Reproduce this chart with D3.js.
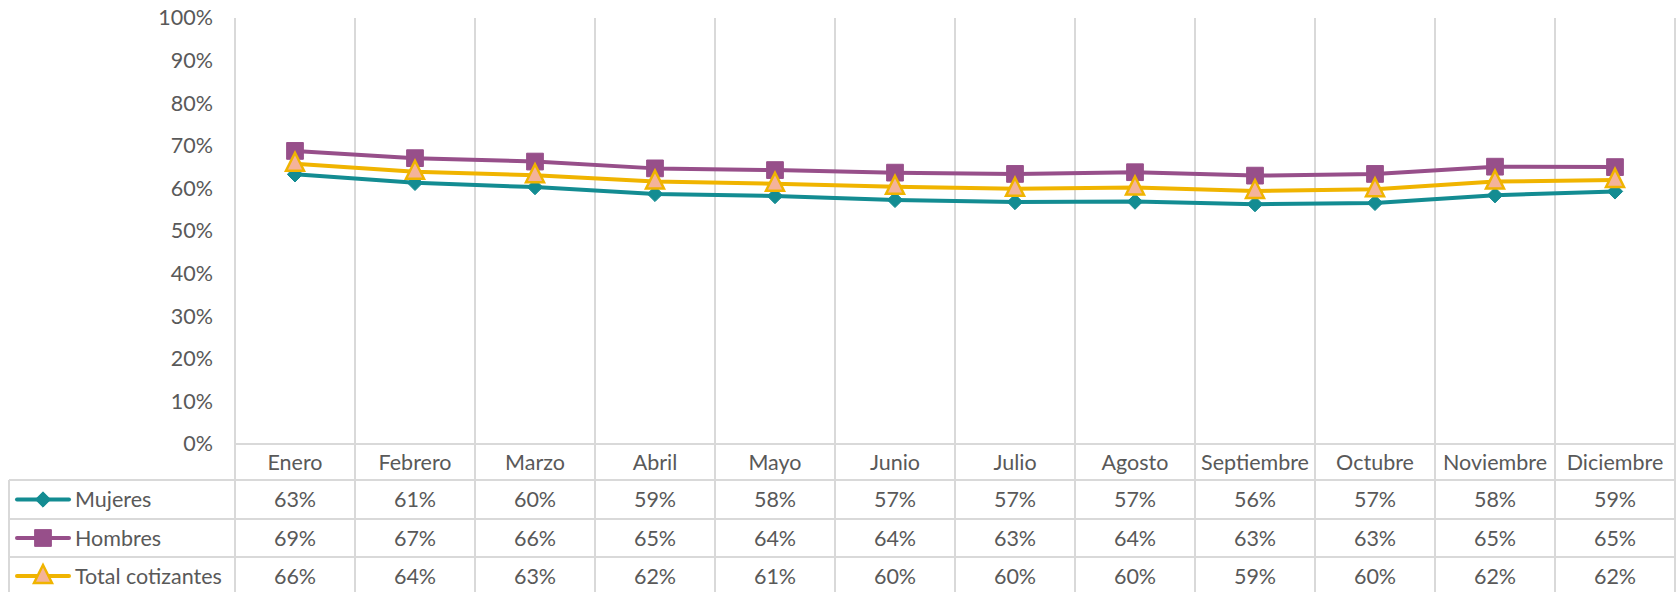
<!DOCTYPE html>
<html>
<head>
<meta charset="utf-8">
<script src="https://cdn.jsdelivr.net/npm/d3@7"></script>
<style>
  body { margin: 0; background: #fff; }
  svg { font-family: Lato, "Open Sans", sans-serif; }
</style>
</head>
<body>
<svg id="chart" width="1678" height="592"></svg>
<script>
// Datos del gráfico
const meses = ["Enero", "Febrero", "Marzo", "Abril", "Mayo", "Junio", "Julio", "Agosto", "Septiembre", "Octubre", "Noviembre", "Diciembre"];
const mujeres = [0.633, 0.613, 0.603, 0.587, 0.582, 0.573, 0.568, 0.569, 0.563, 0.566, 0.584, 0.593];
const hombres = [0.688, 0.671, 0.663, 0.647, 0.643, 0.637, 0.634, 0.638, 0.630, 0.634, 0.651, 0.650];
const total = [0.658, 0.639, 0.631, 0.616, 0.611, 0.604, 0.599, 0.602, 0.594, 0.598, 0.616, 0.620];
const ticksY = [0, 0.1, 0.2, 0.3, 0.4, 0.5, 0.6, 0.7, 0.8, 0.9, 1];

const series = [
  {name: "Mujeres", values: mujeres, color: "#138c92", marker: "diamond"},
  {name: "Hombres", values: hombres, color: "#974f8a", marker: "square"},
  {name: "Total cotizantes", values: total, color: "#f0b400", marker: "triangle", fill: "#f4b39a"}
];

const svg = d3.select("#chart");
const gridColor = "#d9d9d9";
const textColor = "#595959";
const fontSize = "21.5px";

// Área de trazado
const plotLeft = 235, plotRight = 1675, plotTop = 18, axisY = 444;
const rowH = [36, 39, 38, 38]; // fila de meses + 3 filas de series
const tableLeft = 9;
const tableBottom = 600;

const x = d3.scaleBand().domain(meses).range([plotLeft, plotRight]).paddingInner(0).paddingOuter(0);
const y = d3.scaleLinear().domain([0, 1]).range([axisY, plotTop]);

// Líneas verticales de la cuadrícula (separadores de categoría)
const bounds = meses.map(m => x(m)).concat([plotRight]);
svg.append("g").selectAll("line").data(bounds).enter().append("line")
  .attr("x1", d => d).attr("x2", d => d)
  .attr("y1", plotTop).attr("y2", tableBottom)
  .attr("stroke", gridColor).attr("stroke-width", 2);

// Eje X (línea base)
svg.append("line").attr("x1", plotLeft).attr("x2", plotRight).attr("y1", axisY).attr("y2", axisY)
  .attr("stroke", gridColor).attr("stroke-width", 2);

// Filas de la tabla de datos
let rowY = axisY + rowH[0];
const rowTops = [];
for (let i = 0; i < 3; i++) {
  rowTops.push(rowY);
  svg.append("line").attr("x1", tableLeft).attr("x2", plotRight).attr("y1", rowY).attr("y2", rowY)
    .attr("stroke", gridColor).attr("stroke-width", 2);
  rowY += rowH[i + 1];
}
svg.append("line").attr("x1", tableLeft).attr("x2", tableLeft).attr("y1", rowTops[0]).attr("y2", tableBottom)
  .attr("stroke", gridColor).attr("stroke-width", 2);

// Eje Y
const axisLeft = svg.append("g")
  .attr("transform", `translate(${plotLeft - 22},0)`)
  .call(d3.axisLeft(y).tickValues(ticksY).tickSize(0).tickPadding(0).tickFormat(d3.format(".0%")));
axisLeft.select(".domain").remove();
axisLeft.selectAll("text").attr("fill", textColor).style("font-size", fontSize)
  .style("font-family", "Lato, 'Open Sans', sans-serif");

// Etiquetas de meses
svg.append("g").selectAll("text").data(meses).enter().append("text")
  .attr("x", d => x(d) + x.bandwidth() / 2)
  .attr("y", axisY + rowH[0] / 2)
  .attr("dy", "0.35em")
  .attr("text-anchor", "middle")
  .attr("fill", textColor).style("font-size", fontSize)
  .text(d => d);

// Símbolos
function markerPath(type) {
  if (type === "diamond") return d3.symbol().type(d3.symbolDiamond2).size(150)();
  if (type === "square") return d3.symbol().type(d3.symbolSquare).size(280)();
  return "M0,-11L9,7L-9,7Z";
}

function drawMarker(g, s) {
  return g.append("path")
    .attr("d", markerPath(s.marker))
    .attr("fill", s.fill || s.color)
    .attr("stroke", s.color)
    .attr("stroke-width", s.marker === "triangle" ? 2.5 : 1);
}

const line = d3.line().x((d, i) => x(meses[i]) + x.bandwidth() / 2).y(d => y(d));

series.forEach((s, si) => {
  const g = svg.append("g");
  g.append("path").datum(s.values)
    .attr("fill", "none").attr("stroke", s.color).attr("stroke-width", 4)
    .attr("stroke-linejoin", "round").attr("d", line);
  s.values.forEach((v, i) => {
    drawMarker(g, s).attr("transform", `translate(${x(meses[i]) + x.bandwidth() / 2},${y(v)})`);
  });

  // Fila de la tabla
  const cy = rowTops[si] + rowH[si + 1] / 2;
  const lg = svg.append("g");
  lg.append("line").attr("x1", 17).attr("x2", 69).attr("y1", cy).attr("y2", cy)
    .attr("stroke", s.color).attr("stroke-width", 4).attr("stroke-linecap", "round");
  drawMarker(lg, s).attr("transform", `translate(43,${cy})`);
  lg.append("text").attr("x", 75).attr("y", cy).attr("dy", "0.35em")
    .attr("fill", textColor).style("font-size", fontSize).text(s.name);

  svg.append("g").selectAll("text").data(s.values).enter().append("text")
    .attr("x", (d, i) => x(meses[i]) + x.bandwidth() / 2)
    .attr("y", cy).attr("dy", "0.35em").attr("text-anchor", "middle")
    .attr("fill", textColor).style("font-size", fontSize)
    .text(d => d3.format(".0%")(d));
});
</script>
</body>
</html>
